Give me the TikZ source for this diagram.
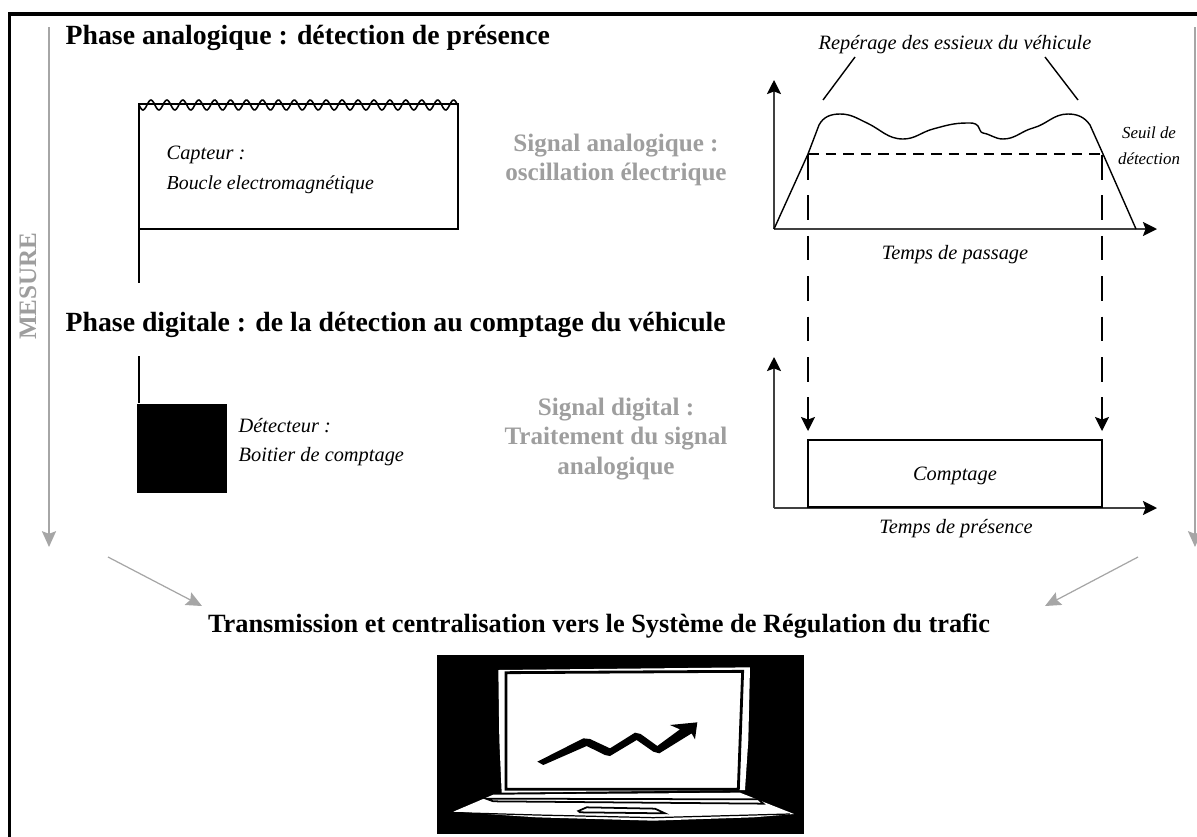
\documentclass[tikz,border=0pt]{standalone}
\usepackage{fontspec}
\setmainfont{Liberation Serif}
\usetikzlibrary{positioning, arrows.meta, calc}

\begin{document}
\begin{tikzpicture}[x=0.02cm, y=-0.02cm, line width=0.8pt, inner sep=0pt]
	\tikzstyle{phase} = [anchor=west, font=\fontsize{15.8}{18}\selectfont\bfseries];
	\tikzstyle{signal} = [align=center, text=black!38, font=\fontsize{14.3}{17}\selectfont\bfseries];
	\tikzstyle{note} = [font=\fontsize{11.6}{15}\selectfont\itshape];
	\tikzstyle{axis} = [line width=1.1pt, black!75, -{Stealth[black, length=8pt, width=8pt, inset=1.5pt]}];
	\tikzstyle{fleche} = [line width=1pt, black!35, -{Stealth[length=9pt, width=8pt, inset=1.5pt]}];
	\tikzstyle{tirets} = [line width=0.7pt, dash pattern=on 14pt off 9pt];
	
	\useasboundingbox (0,0) rectangle (1197,836);
	
	% cadre
	\draw[line width=2pt] (9.5,840) -- (9.5,14) -- (1200,14);
	
	% mesure
	\coordinate (m1) at (49,27);
	\coordinate (m2) at (49,547);
	\coordinate (m3) at (1195,27);
	\coordinate (m4) at (1195,547);
	\draw[fleche] (m1) -- (m2);
	\draw[fleche] (m3) -- (m4);
	\node[signal, rotate=90] (mesure) at (28,286) {MESURE};
	
	% titres
	\node[phase] (ph1) at (65,38) {Phase analogique : détection de présence};
	\node[phase] (ph2) at (65,325) {Phase digitale : de la détection au comptage du véhicule};
	\node[phase, anchor=center, font=\fontsize{15}{18}\selectfont\bfseries] (tr) at (599,626) {Transmission et centralisation vers le Système de Régulation du trafic};
	
	% capteur
	\coordinate (c1) at (139,104);
	\coordinate (c2) at (458,104);
	\coordinate (c3) at (458,229);
	\coordinate (c4) at (139,229);
	\coordinate (c5) at (139,283);
	\draw (c1) -- (c4) -- (c3) -- (c2) -- cycle;
	\draw (c4) -- (c5);
	\draw[domain=0:319, samples=240, smooth, line width=0.9pt] plot ({139+\x},{105+5*sin(\x*22.6)});
	\node[note, anchor=west] (capteur) at (166,155) {Capteur :};
	\node[note, anchor=west, font=\fontsize{11.3}{15}\selectfont\itshape] (boucle) at (166,185) {Boucle electromagnétique};
	
	% detecteur
	\node[fill=black, minimum size=1.79cm, anchor=north west] (det) at (136.5,403) {};
	\coordinate (d1) at (139,356);
	\coordinate (d2) at (139,403);
	\draw (d1) -- (d2);
	\node[note, anchor=west] (detecteur) at (238,426) {Détecteur :};
	\node[note, anchor=west] (boitier) at (238,457) {Boitier de comptage};
	
	% signaux
	\node[signal] (sig1) at (616,160) {Signal analogique :\\oscillation électrique};
	\node[signal] (sig2) at (616,439) {Signal digital :\\Traitement du signal\\analogique};
	
	% courbe analogique
	\coordinate (o1) at (774,229);
	\coordinate (y1) at (774,80);
	\coordinate (x1) at (1157,229);
	\draw[axis] (o1) -- (y1);
	\draw[axis] (o1) -- (x1);
	\coordinate (s1) at (808,154);
	\coordinate (s2) at (1103,154);
	\draw (o1) -- (s1) -- (819,125) to[out=62,in=180] (840,114) to[out=0,in=155] (867,123)
		to[out=-25,in=180] (903,139) to[out=0,in=195] (933,129) to[out=15,in=180] (967,123)
		to[out=0,in=130] (978,126) to[out=-50,in=170] (983,133) to[out=-10,in=180] (1003,139)
		to[out=0,in=195] (1033,128) to[out=15,in=180] (1068,114) to[out=0,in=125] (1090,125)
		-- (s2) -- (1136,229);
	\draw[line width=0.7pt, dash pattern=on 6pt off 4pt] (s1) -- (s2);
	\node[note] (rep) at (955,45) {Repérage des essieux du véhicule};
	\coordinate (r1) at (855,57);
	\coordinate (r2) at (823,100);
	\coordinate (r3) at (1045,57);
	\coordinate (r4) at (1078,100);
	\draw (r1) -- (r2);
	\draw (r3) -- (r4);
	\node[note, align=center, font=\fontsize{9.6}{14.6}\selectfont\itshape] (seuil) at (1149,146) {Seuil de\\détection};
	\node[note] (tps1) at (955,255) {Temps de passage};
	
	% courbe digitale
	\coordinate (o2) at (774,508);
	\coordinate (y2) at (774,357);
	\coordinate (x2) at (1157,508);
	\draw[axis] (o2) -- (y2);
	\draw[axis] (o2) -- (x2);
	\coordinate (b1) at (808,440);
	\coordinate (b2) at (1102,440);
	\coordinate (b3) at (1102,507);
	\coordinate (b4) at (808,507);
	\draw (b1) -- (b2) -- (b3) -- (b4) -- cycle;
	\node[note] (compt) at (955,476) {Comptage};
	\node[note] (tps2) at (956,529) {Temps de présence};
	
	% projection du seuil
	\foreach \s/\t in {1/808,2/1102}
	{
		\coordinate (p\s) at (\t,412);
		\coordinate (q\s) at (\t,431);
		\draw[tirets] (\t,155) -- (p\s);
		\draw[-{Stealth[length=8pt, width=8pt, inset=1.5pt]}, line width=0.7pt] (p\s) -- (q\s);
	}
	
	% vers la transmission
	\coordinate (t1) at (108,557);
	\coordinate (t2) at (202,606);
	\coordinate (t3) at (1138,557);
	\coordinate (t4) at (1045,606);
	\draw[fleche, line width=0.7pt] (t1) -- (t2);
	\draw[fleche, line width=0.7pt] (t3) -- (t4);
	
	% ordinateur
	\fill (437,655) rectangle (804,834);
	\begin{scope}[shift={(420,640)}, x=0.00667cm, y=-0.00667cm]
		\fill[white] (235,90) -- (990,82) -- (985,300) -- (975,450) -- (245,458) -- (238,300) -- cycle;
		\draw[line width=1.6pt] (258,98) -- (968,94) -- (955,448) -- (258,448) -- cycle;
		\fill[white] (100,515) -- (220,464) -- (960,458) -- (1122,522) -- (1000,532) -- (700,542) -- (350,532) -- cycle;
		\draw[line width=1pt] (198,476) -- (1015,478) -- (1030,491) -- (220,484) -- cycle;
		\draw[line width=1pt] (475,513) -- (500,502) -- (705,506) -- (735,520) -- (480,517) -- cycle;
		\draw[line width=0.7pt] (110,518) -- (350,525) -- (700,533) -- (1110,522);
		\fill (352,365) -- (490,295) -- (510,297) -- (570,325) -- (645,278) -- (662,282) -- (712,318) -- (780,268) -- (750,255) -- (832,247) -- (825,298) -- (815,280) -- (718,340) -- (700,335) -- (650,300) -- (570,348) -- (555,345) -- (500,318) -- (370,375) -- cycle;
	\end{scope}
	
\end{tikzpicture}
\end{document}
